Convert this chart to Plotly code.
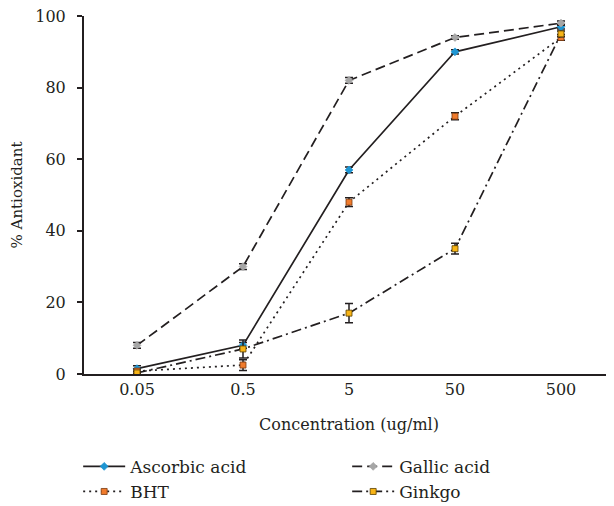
import plotly.graph_objects as go

categories = ["0.05", "0.5", "5", "50", "500"]
ascorbic = [1.5, 8, 57, 90, 97]
ascorbic_err = [0.8, 0.8, 0.8, 0.6, 0.6]
gallic = [8, 30, 82, 94, 98]
gallic_err = [0.8, 0.8, 0.8, 0.5, 0.6]
bht = [0.8, 2.5, 48, 72, 94]
bht_err = [0.6, 1.5, 1.2, 1.0, 0.8]
ginkgo = [0.3, 7, 17, 35, 95]
ginkgo_err = [0.5, 2.5, 2.7, 1.5, 0.8]

LINE = "#231f20"
FONT = "DejaVu Serif"

series = [
    ("Ascorbic acid", ascorbic, ascorbic_err, "solid", "#1e96d3", "diamond", "#1e96d3"),
    ("Gallic acid", gallic, gallic_err, "10px,5px", "#a6a6a6", "diamond", "#a6a6a6"),
    ("BHT", bht, bht_err, "2px,4px", "#f07b2c", "square", "#7a3a10"),
    ("Ginkgo", ginkgo, ginkgo_err, "10px,4px,2px,4px", "#f7b416", "square", "#5a4000"),
]

fig = go.Figure()
for name, vals, errs, dash, col, sym, mline in series:
    fig.add_trace(go.Scatter(
        x=categories, y=vals, name=name, mode="lines+markers",
        line=dict(color=LINE, width=1.7, dash=dash),
        marker=dict(color=col, symbol=sym, size=6, line=dict(color=mline, width=0.8)),
        error_y=dict(type="data", array=errs, visible=True, color=LINE, thickness=1.5, width=4),
    ))

fig.update_layout(
    width=606, height=498,
    margin=dict(l=76, r=0, t=8, b=132, autoexpand=False),
    paper_bgcolor="white", plot_bgcolor="white",
    font=dict(family=FONT, size=16, color=LINE),
    showlegend=True,
    legend=dict(
        orientation="h", x=-0.011, y=-0.209, xanchor="left", yanchor="top",
        entrywidth=212, entrywidthmode="pixels",
        font=dict(family=FONT, size=17, color=LINE),
        tracegroupgap=0, itemwidth=42,
    ),
    xaxis=dict(
        type="category", range=[-0.5, 4.5],
        showline=True, linecolor=LINE, linewidth=2,
        showgrid=False, zeroline=False, ticks="",
        ticklabeloverflow="allow",
        tickfont=dict(family=FONT, size=16, color=LINE),
        title=dict(text="Concentration (ug/ml)", font=dict(family=FONT, size=16, color=LINE), standoff=21),
    ),
    yaxis=dict(
        range=[0, 100], dtick=20,
        showline=True, linecolor=LINE, linewidth=2,
        showgrid=False, zeroline=False, ticks="outside", ticklen=5, tickwidth=2, tickcolor=LINE,
        ticklabelstandoff=8, ticklabeloverflow="allow",
        tickfont=dict(family=FONT, size=16, color=LINE),
        title=dict(text="% Antioxidant", font=dict(family=FONT, size=15, color=LINE), standoff=14),
    ),
)

fig.write_html("out.html")
